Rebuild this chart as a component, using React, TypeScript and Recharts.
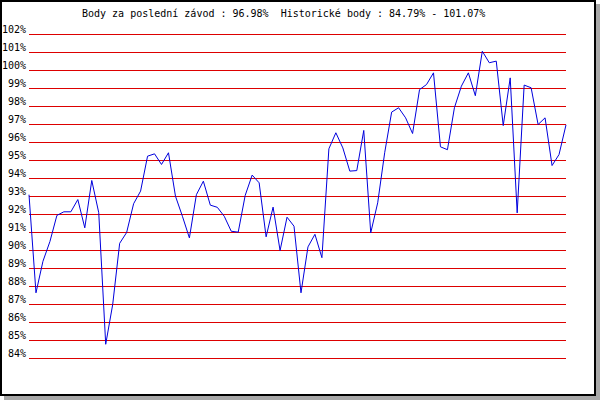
import React from 'react';
import { LineChart, Line, XAxis, YAxis, CartesianGrid } from 'recharts';

// points per race
const scores = [
  93.1, 87.65, 89.4, 90.5, 91.95, 92.15, 92.15, 92.83, 91.26, 93.89,
  92.1, 84.79, 87.0, 90.4, 91.0, 92.6, 93.3, 95.24, 95.37, 94.78,
  95.43, 93.02, 91.9, 90.7, 93.1, 93.85, 92.52, 92.4, 91.9, 91.07,
  91.02, 93.06, 94.19, 93.76, 90.76, 92.41, 90.0, 91.85, 91.35, 87.65,
  90.2, 90.9, 89.6, 95.65, 96.54, 95.7, 94.41, 94.44, 96.67, 90.98,
  92.65, 95.43, 97.69, 97.93, 97.37, 96.5, 98.94, 99.22, 99.87, 95.76,
  95.6, 97.93, 99.13, 99.87, 98.6, 101.07, 100.43, 100.52, 96.94, 99.59,
  92.09, 99.19, 99.04, 97.0, 97.37, 94.72, 95.33, 96.98,
];

const yTicks = [84, 85, 86, 87, 88, 89, 90, 91, 92, 93, 94, 95, 96, 97, 98, 99, 100, 101, 102];

const title = 'Body za poslední závod : 96.98%  Historické body : 84.79% - 101.07%';

const data = scores.map((score, i) => ({ race: i + 1, score }));

const FONT = '"DejaVu Sans Mono", monospace';

const PercentTick = (props: any) => {
  const { x, y, payload } = props;
  return (
    <text x={x} y={y - 2} textAnchor="end" fontFamily={FONT} fontSize={10} fill="#000">
      {`${payload.value}%`}
    </text>
  );
};

export default function App() {
  return (
    <div style={{ position: 'absolute', left: 0, top: 0, width: 600, height: 400 }}>
      <div
        style={{
          position: 'absolute',
          left: 0,
          top: 0,
          width: 596,
          height: 396,
          boxSizing: 'border-box',
          border: '2px solid #000',
          background: '#fff',
          boxShadow: '4px 4px 0 #a8a8a8',
        }}
      />
      <div style={{ position: 'absolute', left: 0, top: 0 }}>
        <LineChart
          width={600}
          height={400}
          data={data}
          margin={{ top: 34.5, right: 34, bottom: 41.5, left: 0 }}
        >
          <CartesianGrid vertical={false} stroke="#dd0000" strokeWidth={1} />
          <XAxis dataKey="race" type="number" domain={[1, scores.length]} hide />
          <YAxis
            domain={[84, 102]}
            ticks={yTicks}
            width={29}
            axisLine={false}
            tickLine={false}
            tickSize={0}
            tickMargin={3}
            interval={0}
            tick={<PercentTick />}
          />
          <Line
            type="linear"
            dataKey="score"
            stroke="#0000dd"
            strokeWidth={1}
            dot={false}
            isAnimationActive={false}
          />
        </LineChart>
      </div>
      <svg width={600} height={30} style={{ position: 'absolute', left: 0, top: 0 }}>
        <text x={82} y={17} fontFamily={FONT} fontSize={10} fill="#000" xmlSpace="preserve">
          {title}
        </text>
      </svg>
    </div>
  );
}
